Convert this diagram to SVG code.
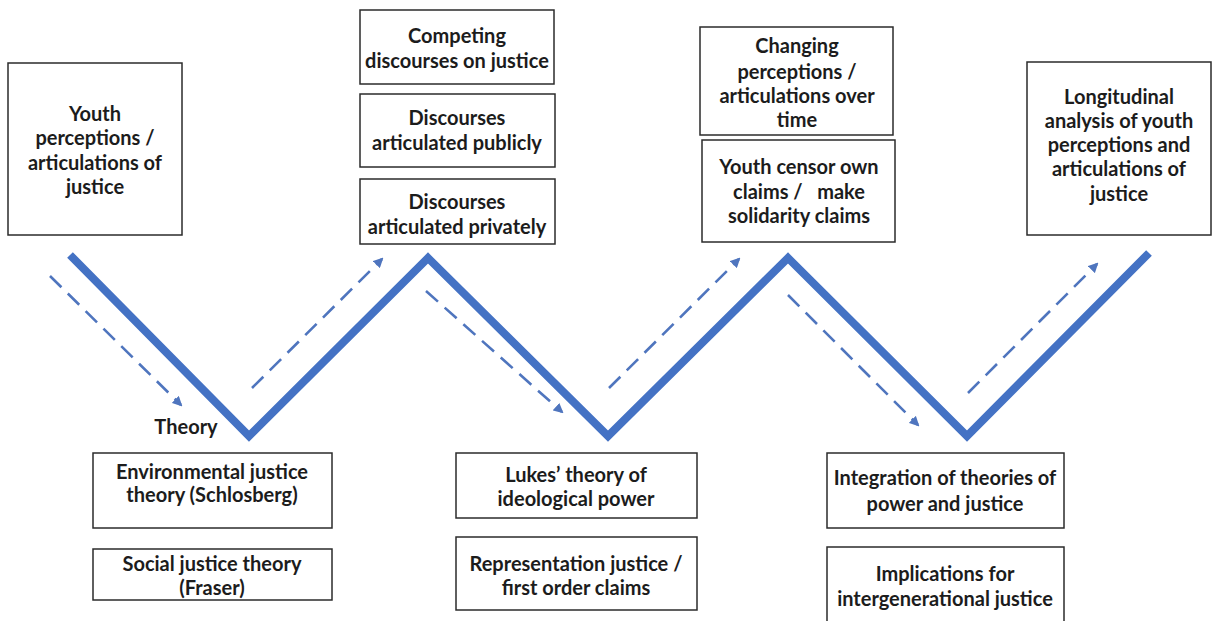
<svg xmlns="http://www.w3.org/2000/svg" width="1218" height="621" viewBox="0 0 1218 621">
  <style>
    .box { fill: #ffffff; stroke: #2b2b2b; stroke-width: 1.5; }
    .lbl { font-family: Lato, "Open Sans", "Liberation Sans", sans-serif; font-weight: bold; font-size: 20px; fill: #1c1c1c; text-anchor: middle; dominant-baseline: central; }
    .zig { fill: none; stroke: #4472C4; stroke-width: 8; stroke-linejoin: miter; }
    .flow { fill: none; stroke: #4F75BE; stroke-width: 2.6; stroke-dasharray: 16 9; }
  </style>
  <defs>
    <marker id="tip" viewBox="0 0 10 10" refX="8" refY="5" markerWidth="10" markerHeight="10" markerUnits="userSpaceOnUse" orient="auto">
      <path d="M0,0 L10,5 L0,10 z" fill="#4F75BE"/>
    </marker>
  </defs>
  <rect width="1218" height="621" fill="#ffffff"/>

  <!-- connectors: the zigzag path and the dashed flow arrows beside it -->
  <g id="connectors">
    <polyline class="zig" points="70,255 249,436 428,258 608,436 788,258 967,436 1149,253"/>
    <line class="flow" x1="50" y1="276" x2="181" y2="405" marker-end="url(#tip)"/>
    <line class="flow" x1="252" y1="388" x2="382" y2="259" marker-end="url(#tip)"/>
    <line class="flow" x1="426" y1="291" x2="562" y2="412" marker-end="url(#tip)"/>
    <line class="flow" x1="609" y1="388" x2="739" y2="259" marker-end="url(#tip)"/>
    <line class="flow" x1="788" y1="295" x2="918" y2="425" marker-end="url(#tip)"/>
    <line class="flow" x1="968" y1="393" x2="1097" y2="264" marker-end="url(#tip)"/>
  </g>

  <g id="youth-perceptions">
    <rect class="box" x="8" y="63" width="174" height="172"/>
    <text class="lbl" x="95" y="113">Youth</text>
    <text class="lbl" x="95" y="137">perceptions /</text>
    <text class="lbl" x="95" y="162">articulations of</text>
    <text class="lbl" x="95" y="186">justice</text>
  </g>

  <g id="competing-discourses">
    <rect class="box" x="360" y="10" width="194" height="74"/>
    <text class="lbl" x="457" y="35">Competing</text>
    <text class="lbl" x="457" y="60">discourses on justice</text>
  </g>

  <g id="discourses-public">
    <rect class="box" x="360" y="94" width="195" height="73"/>
    <text class="lbl" x="457" y="117">Discourses</text>
    <text class="lbl" x="457" y="142">articulated publicly</text>
  </g>

  <g id="discourses-private">
    <rect class="box" x="360" y="179" width="195" height="65"/>
    <text class="lbl" x="457" y="201">Discourses</text>
    <text class="lbl" x="457" y="226">articulated privately</text>
  </g>

  <g id="changing-perceptions">
    <rect class="box" x="700" y="27" width="193" height="108"/>
    <text class="lbl" x="797" y="45">Changing</text>
    <text class="lbl" x="797" y="71">perceptions /</text>
    <text class="lbl" x="797" y="95">articulations over</text>
    <text class="lbl" x="797" y="119">time</text>
  </g>

  <g id="youth-censor">
    <rect class="box" x="702" y="140" width="193" height="102"/>
    <text class="lbl" x="799" y="166">Youth censor own</text>
    <text class="lbl" x="799" y="191" style="white-space:pre">claims /   make</text>
    <text class="lbl" x="799" y="215">solidarity claims</text>
  </g>

  <g id="longitudinal-analysis">
    <rect class="box" x="1027" y="62" width="184" height="173"/>
    <text class="lbl" x="1119" y="96">Longitudinal</text>
    <text class="lbl" x="1119" y="120">analysis of youth</text>
    <text class="lbl" x="1119" y="144">perceptions and</text>
    <text class="lbl" x="1119" y="168">articulations of</text>
    <text class="lbl" x="1119" y="193">justice</text>
  </g>

  <g id="theory-label">
    <text class="lbl" x="186" y="426">Theory</text>
  </g>

  <g id="environmental-justice">
    <rect class="box" x="93" y="453" width="239" height="75"/>
    <text class="lbl" x="212" y="471">Environmental justice</text>
    <text class="lbl" x="212" y="494">theory (Schlosberg)</text>
  </g>

  <g id="social-justice">
    <rect class="box" x="93" y="549" width="239" height="51"/>
    <text class="lbl" x="212" y="563">Social justice theory</text>
    <text class="lbl" x="212" y="587">(Fraser)</text>
  </g>

  <g id="lukes-theory">
    <rect class="box" x="456" y="453" width="241" height="65"/>
    <text class="lbl" x="576" y="474">Lukes’ theory of</text>
    <text class="lbl" x="576" y="498">ideological power</text>
  </g>

  <g id="representation-justice">
    <rect class="box" x="456" y="537" width="241" height="73"/>
    <text class="lbl" x="576" y="563">Representation justice /</text>
    <text class="lbl" x="576" y="587">first order claims</text>
  </g>

  <g id="integration-theories">
    <rect class="box" x="827" y="453" width="237" height="75"/>
    <text class="lbl" x="945" y="477">Integration of theories of</text>
    <text class="lbl" x="945" y="503">power and justice</text>
  </g>

  <g id="intergenerational-justice">
    <rect class="box" x="827" y="547" width="237" height="80"/>
    <text class="lbl" x="945" y="573">Implications for</text>
    <text class="lbl" x="945" y="598">intergenerational justice</text>
  </g>
</svg>
